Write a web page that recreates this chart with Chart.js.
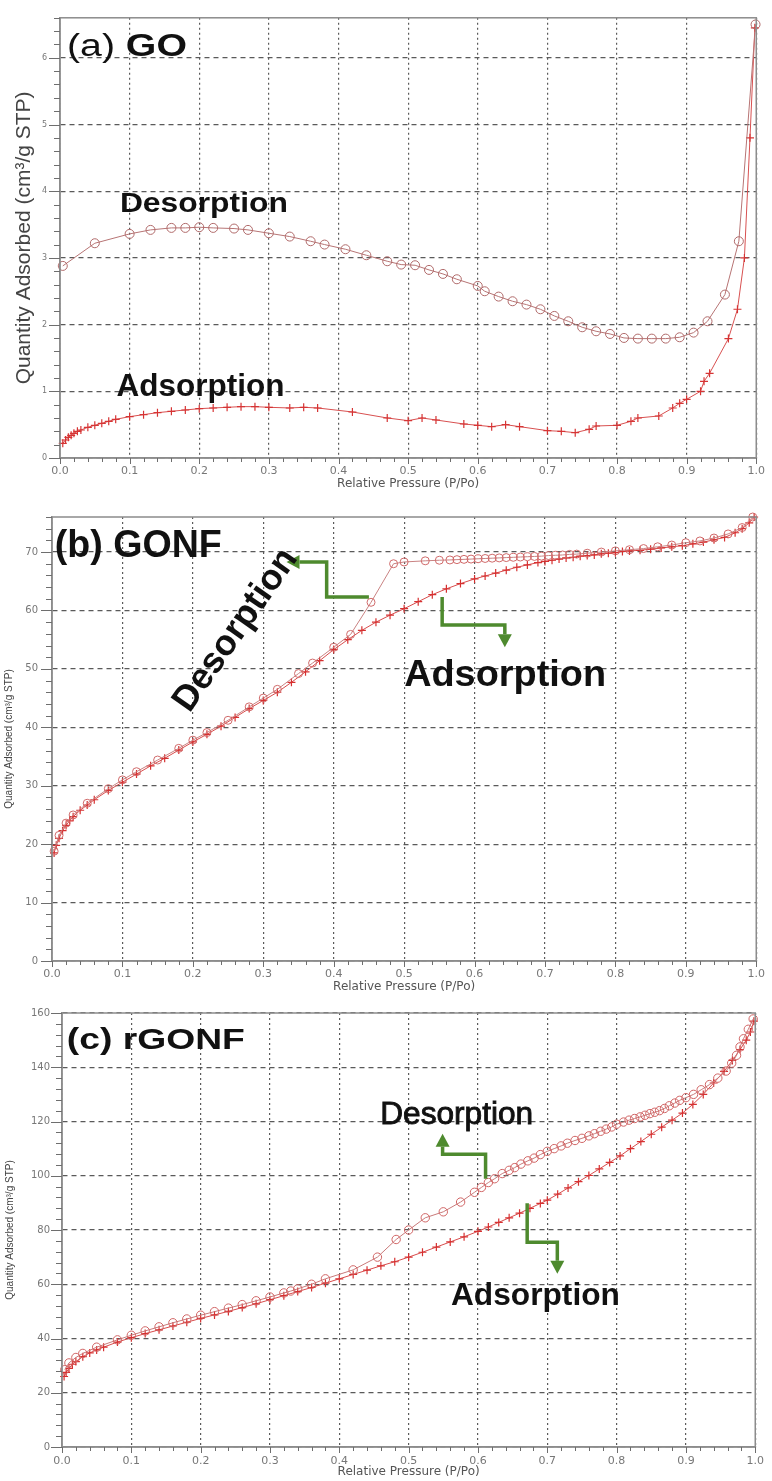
<!DOCTYPE html>
<html>
<head>
<meta charset="utf-8">
<title>N2 isotherms - GO, GONF, rGONF</title>
<script src="https://cdn.jsdelivr.net/npm/chart.js@4.4.0/dist/chart.umd.min.js"></script>
<style>
  body { margin: 0; background: #fff; }
  #wrap { position: relative; width: 772px; height: 1481px; overflow: hidden; }
  #wrap canvas { position: absolute; left: 0; }
</style>
</head>
<body>
<div id="wrap">
  <canvas id="cvGO" width="772" height="495" style="top:0"></canvas>
  <canvas id="cvGONF" width="772" height="500" style="top:495px"></canvas>
  <canvas id="cvRGONF" width="772" height="486" style="top:995px"></canvas>
</div>
<script>
// ============================================================
// N2 adsorption / desorption isotherms
// P/Po = relative pressure, Q = quantity adsorbed (cm3/g STP)
// ============================================================

const pressureTicks = ['0.0', '0.1', '0.2', '0.3', '0.4', '0.5', '0.6', '0.7', '0.8', '0.9', '1.0'];

// ── (a) GO ──
const goAdsP = [0.004, 0.008, 0.012, 0.016, 0.02, 0.025, 0.03, 0.04, 0.05, 0.06, 0.07, 0.08, 0.1, 0.12, 0.14, 0.16, 0.18, 0.2,
                0.22, 0.24, 0.26, 0.28, 0.3, 0.33, 0.35, 0.37, 0.42, 0.47, 0.5, 0.52, 0.54, 0.58, 0.6, 0.62, 0.64, 0.66,
                0.7, 0.72, 0.74, 0.76, 0.77, 0.8, 0.82, 0.83, 0.86, 0.88, 0.89, 0.9, 0.92, 0.925, 0.933, 0.96, 0.973,
                0.983, 0.991, 0.998];
const goAdsQ = [0.22, 0.27, 0.31, 0.34, 0.37, 0.40, 0.42, 0.46, 0.49, 0.52, 0.55, 0.58, 0.62, 0.65, 0.68, 0.70, 0.72, 0.74,
                0.75, 0.76, 0.77, 0.77, 0.76, 0.75, 0.76, 0.75, 0.69, 0.60, 0.56, 0.60, 0.57, 0.51, 0.49, 0.47, 0.50, 0.47,
                0.41, 0.40, 0.38, 0.43, 0.48, 0.49, 0.55, 0.60, 0.63, 0.75, 0.82, 0.88, 1.0, 1.15, 1.27, 1.79, 2.23,
                3.0, 4.8, 6.45];
const goDesP = [0.004, 0.05, 0.1, 0.13, 0.16, 0.18, 0.2, 0.22, 0.25, 0.27, 0.3, 0.33, 0.36, 0.38, 0.41, 0.44, 0.47, 0.49,
                0.51, 0.53, 0.55, 0.57, 0.6, 0.61, 0.63, 0.65, 0.67, 0.69, 0.71, 0.73, 0.75, 0.77, 0.79, 0.81, 0.83,
                0.85, 0.87, 0.89, 0.91, 0.93, 0.955, 0.975, 0.999];
const goDesQ = [2.88, 3.22, 3.36, 3.42, 3.45, 3.45, 3.46, 3.45, 3.44, 3.42, 3.37, 3.32, 3.25, 3.2, 3.13, 3.04, 2.95, 2.9,
                2.89, 2.82, 2.76, 2.68, 2.58, 2.5, 2.42, 2.35, 2.3, 2.23, 2.13, 2.05, 1.96, 1.9, 1.86, 1.8, 1.79,
                1.79, 1.79, 1.81, 1.88, 2.05, 2.45, 3.25, 6.5];

// ── (b) GONF ──
const gonfAdsP = [0.003, 0.006, 0.01, 0.015, 0.02, 0.025, 0.03, 0.04, 0.05, 0.06, 0.08, 0.1, 0.12, 0.14, 0.16, 0.18, 0.2,
                  0.22, 0.24, 0.26, 0.28, 0.3, 0.32, 0.34, 0.36, 0.38, 0.4, 0.42, 0.44, 0.46, 0.48, 0.5, 0.52, 0.54,
                  0.56, 0.58, 0.6, 0.615, 0.63, 0.645, 0.66, 0.675, 0.69, 0.7, 0.71, 0.72, 0.73, 0.74, 0.75, 0.76,
                  0.77, 0.78, 0.79, 0.8, 0.81, 0.82, 0.835, 0.85, 0.865, 0.88, 0.895, 0.91, 0.925, 0.94, 0.955, 0.97,
                  0.98, 0.99, 0.997];
const gonfAdsQ = [18.5, 19.8, 21, 22.3, 23.2, 24, 24.7, 25.8, 26.7, 27.6, 29.2, 30.6, 32, 33.4, 34.7, 36.1, 37.5,
                  38.8, 40.2, 41.7, 43.2, 44.6, 46, 47.7, 49.5, 51.4, 53.3, 55, 56.6, 58, 59.2, 60.3, 61.5, 62.7,
                  63.7, 64.6, 65.4, 65.9, 66.4, 66.9, 67.4, 67.8, 68.2, 68.4, 68.6, 68.8, 69, 69.1, 69.3, 69.4,
                  69.5, 69.7, 69.8, 69.9, 70.1, 70.2, 70.3, 70.5, 70.7, 70.9, 71.1, 71.4, 71.7, 72.1, 72.5, 73.3,
                  74, 75, 76];
const gonfDesP = [0.003, 0.01, 0.02, 0.03, 0.05, 0.08, 0.1, 0.12, 0.15, 0.18, 0.2, 0.22, 0.25, 0.28, 0.3, 0.32, 0.35,
                  0.37, 0.4, 0.424, 0.453, 0.485, 0.5, 0.53, 0.55, 0.565, 0.575, 0.585, 0.595, 0.605, 0.615, 0.625,
                  0.635, 0.645, 0.655, 0.665, 0.675, 0.685, 0.695, 0.705, 0.715, 0.725, 0.735, 0.745, 0.76, 0.78, 0.8,
                  0.82, 0.84, 0.86, 0.88, 0.9, 0.92, 0.94, 0.96, 0.98, 0.995];
const gonfDesQ = [18.8, 21.5, 23.6, 25, 27, 29.5, 31, 32.4, 34.4, 36.4, 37.8, 39.1, 41.2, 43.5, 45, 46.5, 49.2,
                  51, 53.7, 55.9, 61.4, 68, 68.3, 68.5, 68.6, 68.65, 68.7, 68.75, 68.8, 68.85, 68.9, 68.95,
                  69, 69.05, 69.1, 69.15, 69.2, 69.25, 69.3, 69.4, 69.45, 69.5, 69.6, 69.65, 69.8, 70, 70.2,
                  70.4, 70.6, 70.9, 71.2, 71.6, 71.9, 72.4, 73.1, 74.2, 76];

// ── (c) rGONF ──
const rgonfAdsP = [0.003, 0.006, 0.01, 0.015, 0.02, 0.03, 0.04, 0.05, 0.06, 0.08, 0.1, 0.12, 0.14, 0.16, 0.18, 0.2,
                   0.22, 0.24, 0.26, 0.28, 0.3, 0.32, 0.34, 0.36, 0.38, 0.4, 0.42, 0.44, 0.46, 0.48, 0.5, 0.52, 0.54,
                   0.56, 0.58, 0.6, 0.615, 0.63, 0.645, 0.66, 0.675, 0.69, 0.7, 0.715, 0.73, 0.745, 0.76, 0.775, 0.79,
                   0.805, 0.82, 0.835, 0.85, 0.865, 0.88, 0.895, 0.91, 0.925, 0.94, 0.955, 0.967, 0.978, 0.987,
                   0.993, 0.998];
const rgonfAdsQ = [26, 27.5, 29, 30.5, 31.5, 33.3, 34.7, 35.8, 36.8, 38.7, 40.3, 41.8, 43.2, 44.6, 46, 47.4,
                   48.7, 50, 51.4, 52.8, 54.3, 55.8, 57.3, 58.8, 60.4, 62, 63.6, 65.2, 66.8, 68.3, 70, 71.8, 73.7,
                   75.6, 77.5, 79.5, 81.1, 82.8, 84.5, 86.2, 88, 89.8, 91, 93.2, 95.5, 97.8, 100.1, 102.5, 104.9,
                   107.3, 110, 112.6, 115.3, 117.9, 120.5, 123.1, 126.3, 130, 134.2, 138.5, 142.5, 146.5, 150,
                   153, 157];
const rgonfDesP = [0.004, 0.01, 0.02, 0.03, 0.05, 0.08, 0.1, 0.12, 0.14, 0.16, 0.18, 0.2, 0.22, 0.24, 0.26, 0.28, 0.3,
                   0.32, 0.33, 0.34, 0.36, 0.38, 0.42, 0.455, 0.482, 0.5, 0.524, 0.55, 0.575, 0.595, 0.605, 0.615,
                   0.624, 0.635, 0.645, 0.653, 0.662, 0.672, 0.681, 0.69, 0.7, 0.71, 0.72, 0.729, 0.74, 0.75, 0.76,
                   0.768, 0.777, 0.785, 0.793, 0.8, 0.81, 0.818, 0.826, 0.834, 0.841, 0.848, 0.855, 0.862, 0.869,
                   0.876, 0.884, 0.891, 0.9, 0.911, 0.922, 0.934, 0.946, 0.958, 0.966, 0.973, 0.978, 0.983, 0.99,
                   0.997];
const rgonfDesQ = [28.5, 31, 33, 34.5, 36.8, 39.5, 41.2, 42.8, 44.3, 45.8, 47.2, 48.6, 49.9, 51.2, 52.5, 53.9, 55.3,
                   56.8, 57.5, 58.3, 60, 62, 65.3, 70, 76.5, 80, 84.5, 86.7, 90.3, 93.9, 95.7, 97.5,
                   98.9, 100.8, 102, 103, 104.3, 105.5, 106.5, 107.8, 109, 110, 111, 112, 113, 113.8, 114.7,
                   115.5, 116.4, 117.2, 118, 119, 119.8, 120.5, 121.1, 121.7, 122.3, 122.9, 123.4, 124, 124.8,
                   125.8, 126.8, 127.8, 128.8, 130, 131.7, 133.6, 136, 138.6, 141.5, 144.4, 147.5, 150.5, 154,
                   157.8];

// axis ranges [min, max, label step, minor tick step]
const goAxisQ    = [0, 6.6, 1, 0.2];
const gonfAxisQ  = [0, 76, 10, 2];
const rgonfAxisQ = [0, 160, 20, 4];
const axisP      = [0, 1, 0.1, 0.02];

// ============================================================
const FONT   = '"Liberation Sans", Arial, sans-serif';
const AXFONT = '"DejaVu Sans", Verdana, sans-serif';
const GREEN  = '#4e8a2e';

function toPoints(ps, qs) {
    return ps.map((p, i) => ({ x: p, y: qs[i] }));
}

// frame around the plot + major / minor tick marks
const frameTicks = {
    id: 'frameTicks',
    afterDraw(chart, args, opts) {
        const { ctx, chartArea: a, scales: { x, y } } = chart;
        ctx.save();
        ctx.strokeStyle = '#8c8c8c';
        ctx.lineWidth = 1.5;
        ctx.strokeRect(a.left, a.top, a.right - a.left, a.bottom - a.top);

        ctx.strokeStyle = '#6e6e6e';
        ctx.lineWidth = 1;
        const nx = Math.round((x.max - x.min) / axisP[3]);
        for (let i = 0; i <= nx; i++) {
            const px = Math.round(x.getPixelForValue(x.min + i * axisP[3])) + 0.5;
            const len = i % 5 === 0 ? 6 : 4;
            ctx.beginPath(); ctx.moveTo(px, a.bottom); ctx.lineTo(px, a.bottom + len); ctx.stroke();
        }
        const ny = Math.floor((y.max - y.min) / opts.minor + 1e-6);
        for (let i = 0; i <= ny; i++) {
            const py = Math.round(y.getPixelForValue(y.min + i * opts.minor)) + 0.5;
            const len = i % 5 === 0 ? 11 : 6;
            ctx.beginPath(); ctx.moveTo(a.left - len, py); ctx.lineTo(a.left, py); ctx.stroke();
        }
        ctx.restore();
    }
};

function drawLabel(ctx, x, y, spec) {
    ctx.save();
    ctx.translate(x, y);
    if (spec.rotate) ctx.rotate(spec.rotate * Math.PI / 180);
    let natural = 0;
    spec.parts.forEach(([t, w]) => {
        ctx.font = `${w} ${spec.size}px ${FONT}`;
        natural += ctx.measureText(t).width;
    });
    ctx.scale(spec.width / natural, 1);
    ctx.textBaseline = spec.center ? 'middle' : 'alphabetic';
    ctx.fillStyle = '#111';
    ctx.strokeStyle = '#111';
    ctx.lineWidth = 0.9;
    let cx = spec.center ? -natural / 2 : 0;
    spec.parts.forEach(([t, w]) => {
        ctx.font = `${w} ${spec.size}px ${FONT}`;
        ctx.fillText(t, cx, 0);
        if (spec.stroke) ctx.strokeText(t, cx, 0);
        cx += ctx.measureText(t).width;
    });
    ctx.restore();
}

function drawArrow(ctx, pts) {
    const n = pts.length;
    const [ex, ey] = pts[n - 1];
    const [px, py] = pts[n - 2];
    const len = Math.hypot(ex - px, ey - py);
    const ux = (ex - px) / len, uy = (ey - py) / len;
    const head = 13, half = 7;
    const bx = ex - ux * head, by = ey - uy * head;
    ctx.save();
    ctx.strokeStyle = GREEN;
    ctx.fillStyle = GREEN;
    ctx.lineWidth = 3.5;
    ctx.lineJoin = 'miter';
    ctx.beginPath();
    ctx.moveTo(pts[0][0], pts[0][1]);
    for (let i = 1; i < n - 1; i++) ctx.lineTo(pts[i][0], pts[i][1]);
    ctx.lineTo(bx, by);
    ctx.stroke();
    ctx.beginPath();
    ctx.moveTo(ex, ey);
    ctx.lineTo(bx - uy * half, by + ux * half);
    ctx.lineTo(bx + uy * half, by - ux * half);
    ctx.closePath();
    ctx.fill();
    ctx.restore();
}

// panel texts and green arrows, anchored in data units
const notes = {
    id: 'notes',
    afterDatasetsDraw(chart, args, opts) {
        const { ctx, scales: { x, y } } = chart;
        (opts.arrows || []).forEach(path => {
            drawArrow(ctx, path.map(([p, q]) => [x.getPixelForValue(p), y.getPixelForValue(q)]));
        });
        (opts.labels || []).forEach(l => {
            drawLabel(ctx, x.getPixelForValue(l.at[0]), y.getPixelForValue(l.at[1]), l);
        });
    }
};

function makePanel(cfg) {
    const canvas = document.getElementById(cfg.id);
    const H = canvas.height;
    const area = cfg.area;
    const s = cfg.series;

    new Chart(canvas, {
        type: 'scatter',
        data: {
            datasets: [
                {
                    label: 'Desorption',
                    data: toPoints(s.desP, s.desQ),
                    showLine: true,
                    borderColor: cfg.desLine,
                    borderWidth: 1,
                    pointStyle: 'circle',
                    pointRadius: cfg.circle,
                    pointBorderWidth: 1,
                    pointBorderColor: cfg.desMark,
                    pointBackgroundColor: 'rgba(0,0,0,0)',
                    clip: 8,
                },
                {
                    label: 'Adsorption',
                    data: toPoints(s.adsP, s.adsQ),
                    showLine: true,
                    borderColor: cfg.adsLine,
                    borderWidth: 1,
                    pointStyle: 'cross',
                    pointRadius: 4,
                    pointBorderWidth: 1.2,
                    pointBorderColor: cfg.adsMark,
                    clip: 8,
                }
            ]
        },
        options: {
            responsive: false,
            animation: false,
            events: [],
            layout: { padding: { top: area.top, right: canvas.width - area.right, left: 0, bottom: 0 } },
            plugins: {
                legend: { display: false },
                tooltip: { enabled: false },
                frameTicks: { minor: cfg.yAxis[3] },
                notes: { labels: cfg.labels, arrows: cfg.arrows },
            },
            scales: {
                x: {
                    type: 'linear',
                    min: axisP[0],
                    max: axisP[1],
                    afterFit: sc => { sc.height = H - area.bottom; },
                    grid: { color: '#5a5a5a', lineWidth: 1.2, drawTicks: false },
                    border: { display: true, color: '#8c8c8c', width: 1.5, dash: [2, 3] },
                    ticks: {
                        stepSize: axisP[2],
                        autoSkip: false,
                        maxRotation: 0,
                        padding: cfg.xLabelPad,
                        color: '#777',
                        font: { family: AXFONT, size: 11 },
                        callback: (v, i) => pressureTicks[i],
                    },
                    title: {
                        display: true,
                        text: 'Relative Pressure (P/Po)',
                        color: '#555',
                        font: { family: AXFONT, size: 12 },
                        padding: { top: 0, bottom: cfg.xTitlePad },
                    },
                },
                y: {
                    type: 'linear',
                    min: cfg.yAxis[0],
                    max: cfg.yAxis[1],
                    afterFit: sc => { sc.width = area.left; },
                    grid: { color: '#5a5a5a', lineWidth: 1.2, drawTicks: false },
                    border: { display: true, color: '#8c8c8c', width: 1.5, dash: [5, 4] },
                    ticks: {
                        stepSize: cfg.yAxis[2],
                        includeBounds: false,
                        padding: cfg.yLabelPad,
                        color: '#777',
                        font: { family: AXFONT, size: cfg.yLabelSize },
                    },
                    title: {
                        display: true,
                        text: 'Quantity Adsorbed (cm³/g STP)',
                        color: '#444',
                        font: { family: FONT, size: cfg.yTitleSize },
                        padding: { top: cfg.yTitlePad, bottom: 0 },
                    },
                },
            },
        },
        plugins: [frameTicks, notes],
    });
}

makePanel({
    id: 'cvGO',
    area: { left: 60, right: 760, top: 12, bottom: 458 },
    yAxis: goAxisQ,
    series: { adsP: goAdsP, adsQ: goAdsQ, desP: goDesP, desQ: goDesQ },
    desLine: '#b77474', desMark: '#b06a6a', adsLine: '#d85050', adsMark: '#d63434',
    circle: 4.5,
    xLabelPad: 7, xTitlePad: 4, yLabelPad: 13, yLabelSize: 8, yTitleSize: 21, yTitlePad: 12,
    labels: [
        { at: [0.01, 6.03], parts: [['(a)', 'normal'], [' GO', 'bold']], size: 31, width: 120 },
        { at: [0.086, 3.69], parts: [['Desorption', 'bold']], size: 28, width: 168 },
        { at: [0.081, 0.93], parts: [['Adsorption', 'bold']], size: 32, width: 168 },
    ],
    arrows: [],
});

makePanel({
    id: 'cvGONF',
    area: { left: 52, right: 760, top: 22, bottom: 466 },
    yAxis: gonfAxisQ,
    series: { adsP: gonfAdsP, adsQ: gonfAdsQ, desP: gonfDesP, desQ: gonfDesQ },
    desLine: '#c98282', desMark: '#d06a6a', adsLine: '#d84c4c', adsMark: '#d63030',
    circle: 4,
    xLabelPad: 7, xTitlePad: 1, yLabelPad: 14, yLabelSize: 10, yTitleSize: 10, yTitlePad: 3,
    labels: [
        { at: [0.004, 69.1], parts: [['(b) GONF', 'bold']], size: 38, width: 167 },
        { at: [0.261, 56.6], parts: [['Desorption', 'bold']], size: 36, width: 190, rotate: -55, center: true },
        { at: [0.5, 47], parts: [['Adsorption', 'bold']], size: 36, width: 202 },
    ],
    arrows: [
        [[0.45, 62.3], [0.39, 62.3], [0.39, 68.3], [0.333, 68.3]],
        [[0.554, 62.3], [0.554, 57.5], [0.643, 57.5], [0.643, 53.7]],
    ],
});

makePanel({
    id: 'cvRGONF',
    area: { left: 62, right: 759, top: 9, bottom: 452 },
    yAxis: rgonfAxisQ,
    series: { adsP: rgonfAdsP, adsQ: rgonfAdsQ, desP: rgonfDesP, desQ: rgonfDesQ },
    desLine: '#c97a7a', desMark: '#d06464', adsLine: '#d84c4c', adsMark: '#d63030',
    circle: 4.2,
    xLabelPad: 8, xTitlePad: 2, yLabelPad: 12, yLabelSize: 10, yTitleSize: 10, yTitlePad: 4,
    labels: [
        { at: [0.007, 146.9], parts: [['(c) rGONF', 'bold']], size: 30, width: 178 },
        { at: [0.459, 119.1], parts: [['Desorption', 'normal']], size: 32, width: 153, stroke: true },
        { at: [0.561, 52.3], parts: [['Adsorption', 'bold']], size: 32, width: 169 },
    ],
    arrows: [
        [[0.611, 98.9], [0.611, 107.9], [0.549, 107.9], [0.549, 115.5]],
        [[0.671, 89.9], [0.671, 75.5], [0.7145, 75.5], [0.7145, 63.9]],
    ],
});
</script>
</body>
</html>
